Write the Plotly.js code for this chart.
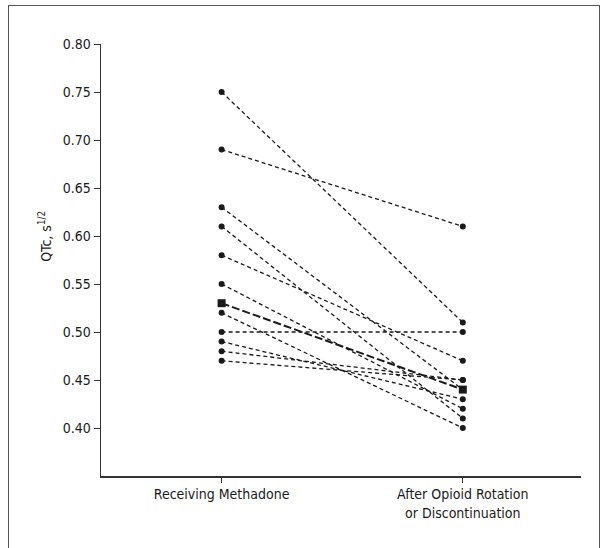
<!DOCTYPE html>
<html>
<head>
<meta charset="utf-8">
<script src="https://cdn.plot.ly/plotly-3.0.1.min.js"></script>
<style>
  html, body { margin: 0; padding: 0; background: #fff; }
  #frame { position: absolute; left: 8px; top: 5px; width: 592px; height: 560px;
           border-left: 1px solid #555; border-top: 1px solid #555; border-right: 1px solid #555; box-sizing: border-box; }
  #chart { position: absolute; left: 0; top: 0; width: 608px; height: 548px; }
</style>
</head>
<body>
<div id="frame"></div>
<div id="chart"></div>
<script>
// Category positions and labels
const categories = [0, 1];
const categoryLabels = ["Receiving Methadone", "After Opioid Rotation<br>or Discontinuation"];

// QTc per patient (s^1/2)
const receivingMethadone = [0.75, 0.69, 0.63, 0.61, 0.58, 0.55, 0.52, 0.50, 0.49, 0.48, 0.47];
const afterRotation      = [0.51, 0.61, 0.44, 0.41, 0.47, 0.42, 0.40, 0.50, 0.43, 0.45, 0.45];

// Mean values
const meanReceiving = 0.53;
const meanAfter = 0.44;

// Y ticks
const yTicks = [0.40, 0.45, 0.50, 0.55, 0.60, 0.65, 0.70, 0.75, 0.80];

const FONT = "'DejaVu Sans Condensed', 'Liberation Sans Narrow', sans-serif";

const traces = [];
for (let i = 0; i < receivingMethadone.length; i++) {
  traces.push({
    type: 'scatter', mode: 'lines+markers',
    x: categories, y: [receivingMethadone[i], afterRotation[i]],
    line: { color: '#1a1a1a', width: 1.3, dash: '4px,3px' },
    marker: { color: '#1a1a1a', size: 6, symbol: 'circle' },
    hoverinfo: 'skip', showlegend: false, cliponaxis: false
  });
}
traces.push({
  type: 'scatter', mode: 'lines+markers',
  x: categories, y: [meanReceiving, meanAfter],
  line: { color: '#1a1a1a', width: 2, dash: '8px,3px' },
  marker: { color: '#1a1a1a', size: 8, symbol: 'square' },
  hoverinfo: 'skip', showlegend: false, cliponaxis: false
});

const layout = {
  width: 608, height: 548,
  margin: { l: 101, r: 27, t: 44, b: 72 },
  paper_bgcolor: 'rgba(0,0,0,0)', plot_bgcolor: 'rgba(0,0,0,0)',
  font: { family: FONT, size: 14, color: '#1a1a1a' },
  showlegend: false,
  xaxis: {
    range: [-0.5, 1.49], tickvals: categories, ticktext: categoryLabels,
    showgrid: false, zeroline: false, showline: true, linecolor: '#333', linewidth: 1.5,
    ticks: 'outside', ticklen: 5, tickcolor: '#333', tickfont: { family: FONT, size: 14, color: '#1a1a1a' },
    fixedrange: true
  },
  yaxis: {
    range: [0.35, 0.80], tickvals: yTicks, tickformat: '.2f',
    showgrid: false, zeroline: false, showline: true, linecolor: '#333', linewidth: 1.5,
    ticks: 'outside', ticklen: 6, tickcolor: '#333', tickfont: { family: FONT, size: 14, color: '#1a1a1a' },
    fixedrange: true
  },
  annotations: [{
    xref: 'paper', yref: 'y', x: -0.117, y: 0.60, xanchor: 'center', yanchor: 'middle',
    text: 'QTc, s<sup>1/2</sup>', textangle: -90, showarrow: false,
    font: { family: FONT, size: 14, color: '#1a1a1a' }
  }]
};

Plotly.newPlot('chart', traces, layout, { staticPlot: true, displayModeBar: false });
</script>
</body>
</html>
